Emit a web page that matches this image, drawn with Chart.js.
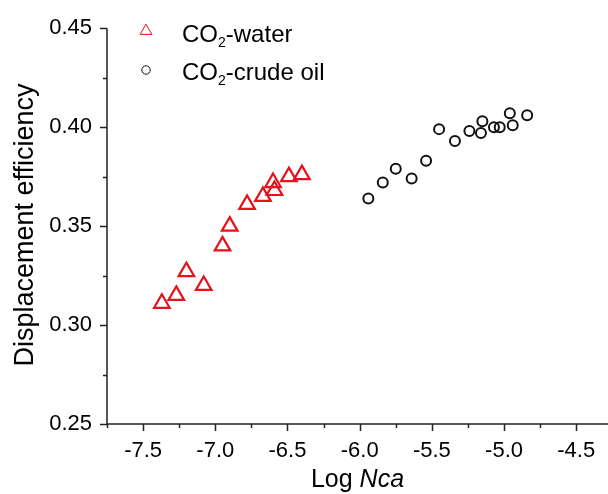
<!DOCTYPE html>
<html>
<head>
<meta charset="utf-8">
<script src="https://cdn.jsdelivr.net/npm/chart.js@4.4.0/dist/chart.umd.min.js"></script>
<style>
  html, body { margin: 0; padding: 0; background: #fff; }
  canvas { display: block; }
</style>
</head>
<body>
<canvas id="effChart" width="608" height="494"></canvas>
<script>
// Data
const waterX = [-7.37, -7.27, -7.20, -7.08, -6.95, -6.90, -6.78, -6.67, -6.60, -6.59, -6.49, -6.40];
const waterY = [0.311, 0.315, 0.327, 0.320, 0.340, 0.350, 0.361, 0.365, 0.372, 0.368, 0.375, 0.376];
const oilX = [-5.94, -5.84, -5.75, -5.64, -5.54, -5.45, -5.34, -5.24, -5.16, -5.15, -5.07, -5.03, -4.96, -4.94, -4.84];
const oilY = [0.364, 0.372, 0.379, 0.374, 0.383, 0.399, 0.393, 0.398, 0.397, 0.403, 0.400, 0.400, 0.407, 0.401, 0.406];
const seriesNames = ['-water', '-crude oil'];

const FONT = '"Liberation Sans", Arial, sans-serif';
const RED = '#e8101a';
const BLACK = '#111';

const toPoints = (xs, ys) => xs.map((x, i) => ({ x: x, y: ys[i] }));

// every 2nd tick is a labelled major tick
const isMajor = (v, step) => Math.round(v / step) % 2 === 0;

// Origin-style axes: left + bottom lines, outward major/minor ticks
const axesPlugin = {
  id: 'originAxes',
  beforeDatasetsDraw(chart) {
    const { ctx, chartArea: a, scales: { x, y } } = chart;
    ctx.save();
    ctx.strokeStyle = '#222';
    ctx.lineWidth = 1.5;
    ctx.beginPath();
    ctx.moveTo(a.left, a.top);
    ctx.lineTo(a.left, a.bottom);
    ctx.lineTo(a.right + 2, a.bottom);
    x.ticks.forEach(t => {
      const px = Math.round(x.getPixelForValue(t.value)) + 0.5;
      const len = isMajor(t.value, 0.25) ? 7 : 4;
      ctx.moveTo(px, a.bottom);
      ctx.lineTo(px, a.bottom + len);
    });
    y.ticks.forEach(t => {
      const py = Math.round(y.getPixelForValue(t.value)) + 0.5;
      const len = isMajor(t.value - 0.25, 0.025) ? 7 : 4;
      ctx.moveTo(a.left, py);
      ctx.lineTo(a.left - len, py);
    });
    ctx.stroke();

    // axis titles
    ctx.fillStyle = '#000';
    ctx.textBaseline = 'alphabetic';
    const part1 = 'Log ';
    ctx.font = '25px ' + FONT;
    const w1 = ctx.measureText(part1).width;
    ctx.font = 'italic 25px ' + FONT;
    const w2 = ctx.measureText('Nca').width;
    const cx = (a.left + a.right) / 2;
    const sx = cx - (w1 + w2) / 2;
    ctx.textAlign = 'left';
    ctx.font = '25px ' + FONT;
    ctx.fillText(part1, sx, 487);
    ctx.font = 'italic 25px ' + FONT;
    ctx.fillText('Nca', sx + w1, 487);

    ctx.translate(33, 225);
    ctx.rotate(-Math.PI / 2);
    ctx.font = '27px ' + FONT;
    ctx.textAlign = 'center';
    ctx.fillText('Displacement efficiency', 0, 0);
    ctx.restore();
  }
};

// legend with subscripted CO2
const legendPlugin = {
  id: 'co2Legend',
  afterDraw(chart) {
    const { ctx } = chart;
    const rows = [31, 70];
    const baselines = [42, 80];
    ctx.save();
    chart.data.datasets.forEach((ds, i) => {
      ctx.strokeStyle = ds.borderColor;
      ctx.fillStyle = 'rgba(0,0,0,0)';
      Chart.helpers.drawPoint(ctx, {
        pointStyle: ds.pointStyle,
        radius: ds.pointStyle === 'triangle' ? 6.8 : 4.2,
        borderWidth: 2,
        rotation: 0
      }, 146, rows[i]);

      ctx.fillStyle = '#000';
      ctx.textAlign = 'left';
      ctx.textBaseline = 'alphabetic';
      let tx = 182;
      ctx.font = '24px ' + FONT;
      ctx.fillText('CO', tx, baselines[i]);
      tx += ctx.measureText('CO').width;
      ctx.font = '14px ' + FONT;
      ctx.fillText('2', tx, baselines[i] + 5);
      tx += ctx.measureText('2').width;
      ctx.font = '24px ' + FONT;
      ctx.fillText(seriesNames[i], tx, baselines[i]);
    });
    ctx.restore();
  }
};

const ctx = document.getElementById('effChart').getContext('2d');

const effChart = new Chart(ctx, {
  type: 'scatter',
  data: {
    datasets: [{
      label: 'CO2-water',
      data: toPoints(waterX, waterY),
      pointStyle: 'triangle',
      pointRadius: 9,
      pointBorderWidth: 2.2,
      borderColor: RED,
      backgroundColor: 'rgba(0,0,0,0)'
    }, {
      label: 'CO2-crude oil',
      data: toPoints(oilX, oilY),
      pointStyle: 'circle',
      pointRadius: 5,
      pointBorderWidth: 2,
      borderColor: BLACK,
      backgroundColor: 'rgba(0,0,0,0)'
    }]
  },
  options: {
    responsive: false,
    animation: false,
    devicePixelRatio: 1,
    layout: { autoPadding: false, padding: { left: 0, top: 15, right: 0, bottom: 0 } },
    plugins: {
      legend: { display: false },
      tooltip: { enabled: false }
    },
    scales: {
      x: {
        type: 'linear',
        min: -7.75,
        max: -4.28,
        grid: { display: false, drawTicks: false },
        border: { display: false },
        afterFit: scale => {
          scale.height = 70;
          scale.paddingLeft = 0;
          scale.paddingRight = 0;
        },
        ticks: {
          stepSize: 0.25,
          includeBounds: false,
          autoSkip: false,
          maxRotation: 0,
          padding: 14,
          color: '#000',
          font: { family: FONT, size: 22 },
          callback: v => isMajor(v, 0.25) ? v.toFixed(1) : ''
        }
      },
      y: {
        min: 0.25,
        max: 0.45,
        grid: { display: false, drawTicks: false },
        border: { display: false },
        afterFit: scale => { scale.width = 107; },
        ticks: {
          stepSize: 0.025,
          includeBounds: false,
          autoSkip: false,
          padding: 15,
          color: '#000',
          font: { family: FONT, size: 22 },
          callback: v => isMajor(v - 0.25, 0.025) ? v.toFixed(2) : ''
        }
      }
    }
  },
  plugins: [axesPlugin, legendPlugin]
});
</script>
</body>
</html>
